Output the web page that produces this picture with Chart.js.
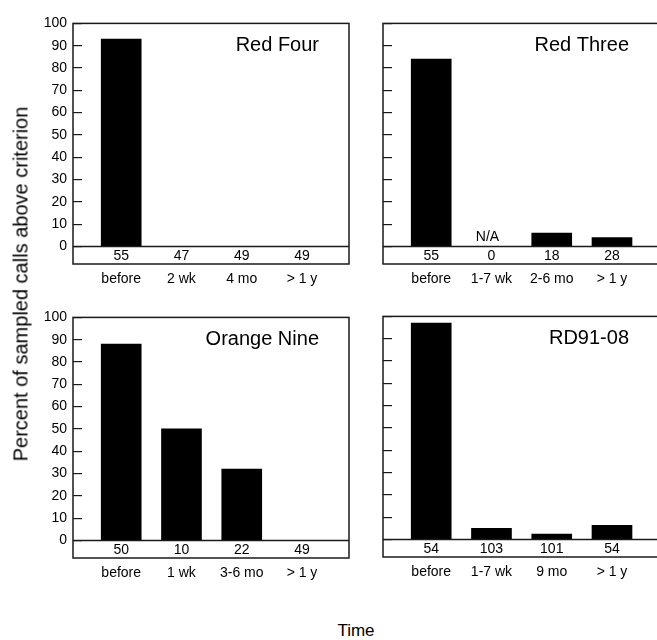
<!DOCTYPE html>
<html>
<head>
<meta charset="utf-8">
<script src="https://cdn.jsdelivr.net/npm/chart.js@4.4.1/dist/chart.umd.min.js"></script>
<style>
  html, body { margin: 0; padding: 0; width: 657px; height: 640px; overflow: hidden; background: #fff; }
  canvas { position: absolute; }
  .lbl { position: absolute; font-family: 'Liberation Sans', Arial, sans-serif; color: #000; white-space: nowrap; }
  #ytitle { left: 21px; top: 284px; font-size: 20px; transform: translate(-50%, -50%) rotate(-90deg); }
  #xtitle { left: 356px; top: 631px; font-size: 17px; transform: translate(-50%, -50%); }
</style>
</head>
<body>
<canvas id="c1" width="353" height="300" style="left:0px; top:0px;"></canvas>
<canvas id="c2" width="290" height="300" style="left:373px; top:0px;"></canvas>
<canvas id="c3" width="353" height="300" style="left:0px; top:294px;"></canvas>
<canvas id="c4" width="290" height="300" style="left:373px; top:293px;"></canvas>
<div id="ytitle" class="lbl">Percent of sampled calls above criterion</div>
<div id="xtitle" class="lbl">Time</div>
<script>
// ---- data ----
const yTicks = [0, 10, 20, 30, 40, 50, 60, 70, 80, 90, 100];

const redFourTitle = 'Red Four';
const redFourCats = ['before', '2 wk', '4 mo', '> 1 y'];
const redFourValues = [93, 0, 0, 0];
const redFourCounts = [55, 47, 49, 49];

const redThreeTitle = 'Red Three';
const redThreeCats = ['before', '1-7 wk', '2-6 mo', '> 1 y'];
const redThreeValues = [84, null, 6, 4];   // null = N/A
const redThreeCounts = [55, 0, 18, 28];

const orangeNineTitle = 'Orange Nine';
const orangeNineCats = ['before', '1 wk', '3-6 mo', '> 1 y'];
const orangeNineValues = [88, 50, 32, 0];
const orangeNineCounts = [50, 10, 22, 49];

const rd9108Title = 'RD91-08';
const rd9108Cats = ['before', '1-7 wk', '9 mo', '> 1 y'];
const rd9108Values = [97, 5, 2.4, 6.3];
const rd9108Counts = [54, 103, 101, 54];

const naText = 'N/A';

// ---- drawing ----
const FONT = "'Liberation Sans', Arial, sans-serif";
Chart.defaults.font.family = FONT;
Chart.defaults.color = '#000';
const LINE = '#1a1a1a';

function makePanel(id, title, cats, values, counts, showYLabels) {
  const panelPlugin = {
    id: 'panel_' + id,
    afterDatasetsDraw(chart) {
      const ctx = chart.ctx;
      const a = chart.chartArea;
      const xs = chart.scales.x, ys = chart.scales.y;
      const y0 = ys.getPixelForValue(0);
      ctx.save();
      ctx.strokeStyle = LINE;
      ctx.lineWidth = 1.5;
      ctx.strokeRect(a.left, a.top, a.right - a.left, a.bottom - a.top);
      ctx.beginPath();
      ctx.moveTo(a.left, y0);
      ctx.lineTo(a.right, y0);
      ctx.stroke();
      ctx.fillStyle = '#000';
      ctx.font = '14px ' + FONT;
      ctx.textAlign = 'center';
      ctx.textBaseline = 'middle';
      counts.forEach((c, i) => {
        ctx.fillText(String(c), xs.getPixelForValue(i), (y0 + a.bottom) / 2 + 1);
      });
      values.forEach((v, i) => {
        if (v === null) ctx.fillText(naText, xs.getPixelForValue(i) - 4, y0 - 9);
      });
      ctx.font = '20px ' + FONT;
      ctx.textAlign = 'right';
      ctx.fillText(title, a.right - 30, a.top + 22);
      ctx.restore();
    }
  };

  return new Chart(document.getElementById(id), {
    type: 'bar',
    data: {
      datasets: [{
        data: values.map((v, i) => ({ x: i, y: v })),
        backgroundColor: '#000',
        borderWidth: 0,
        barThickness: 40
      }]
    },
    options: {
      responsive: false,
      animation: false,
      events: [],
      layout: { padding: { top: 16, right: 4, bottom: 6, left: 0 } },
      plugins: { legend: { display: false }, tooltip: { enabled: false }, title: { display: false } },
      scales: {
        x: {
          type: 'linear',
          offset: false,
          min: -0.8,
          max: 3.78,
          afterBuildTicks: (s) => { s.ticks = cats.map((c, i) => ({ value: i })); },
          afterFit: (s) => { s.height = 30; },
          grid: { display: false, drawTicks: false, offset: false },
          border: { display: false },
          ticks: {
            callback: (v) => cats[v],
            font: { size: 14 },
            color: '#000',
            padding: 7,
            maxRotation: 0,
            autoSkip: false
          }
        },
        y: {
          min: -7.85,
          max: 100,
          afterBuildTicks: (s) => { s.ticks = yTicks.map(v => ({ value: v })); },
          afterFit: (s) => { s.width = showYLabels ? 73 : 10; },
          grid: { drawOnChartArea: false, drawTicks: true, tickLength: -9, tickColor: LINE, lineWidth: 1.2 },
          border: { display: false },
          ticks: {
            callback: (v) => showYLabels ? String(v) : '',
            font: { size: 14 },
            color: '#000',
            padding: 15
          }
        }
      }
    },
    plugins: [panelPlugin]
  });
}

makePanel('c1', redFourTitle, redFourCats, redFourValues, redFourCounts, true);
makePanel('c2', redThreeTitle, redThreeCats, redThreeValues, redThreeCounts, false);
makePanel('c3', orangeNineTitle, orangeNineCats, orangeNineValues, orangeNineCounts, true);
makePanel('c4', rd9108Title, rd9108Cats, rd9108Values, rd9108Counts, false);
</script>
</body>
</html>
